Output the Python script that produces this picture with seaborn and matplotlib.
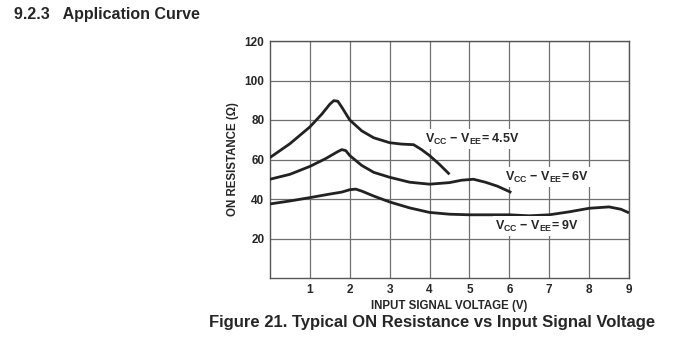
import matplotlib
matplotlib.use("Agg")
import matplotlib.pyplot as plt
import seaborn as sns
import pandas as pd

# Data
v45_x = [0, 0.5, 1, 1.3, 1.5, 1.6, 1.7, 1.8, 2, 2.3, 2.6, 3, 3.3, 3.6, 3.8, 4, 4.25, 4.5]
v45_y = [61, 68, 76.5, 83, 88, 89.8, 89.5, 86.5, 80, 74.5, 71, 68.5, 67.8, 67.5, 65, 62, 57.5, 52.5]

v6_x = [0, 0.5, 1, 1.4, 1.7, 1.8, 1.9, 2, 2.3, 2.6, 3, 3.5, 4, 4.5, 4.8, 5.1, 5.4, 5.7, 6.05]
v6_y = [50, 52.5, 56.5, 60.5, 64, 65, 64.5, 62, 57, 53.5, 51, 48.5, 47.5, 48.3, 49.5, 50, 48.5, 46.5, 43.3]

v9_x = [0, 0.5, 1, 1.5, 1.8, 2.0, 2.15, 2.3, 2.6, 3, 3.5, 4, 4.5, 5, 5.5, 6, 6.5, 7, 7.5, 8, 8.5, 8.8, 9]
v9_y = [37.5, 39, 40.7, 42.5, 43.5, 44.7, 45, 44, 41.5, 38.5, 35.5, 33.2, 32.3, 32, 32, 32, 31.5, 32, 33.5, 35.3, 36, 34.8, 33]

series_names = ["4.5V", "6V", "9V"]
series_labels = ["V$_{CC}$ \u2212 V$_{EE}$= 4.5V", "V$_{CC}$ \u2212 V$_{EE}$= 6V", "V$_{CC}$ \u2212 V$_{EE}$= 9V"]
label_pos = [(3.88, 70.4), (5.89, 51.1), (5.64, 26.3)]

x_ticks = [1, 2, 3, 4, 5, 6, 7, 8, 9]
y_ticks = [20, 40, 60, 80, 100, 120]

sns.set_style("white")
plt.rcParams["font.family"] = ["Liberation Sans", "DejaVu Sans"]
plt.rcParams["mathtext.fontset"] = "custom"
plt.rcParams["mathtext.rm"] = "Liberation Sans:bold"
plt.rcParams["mathtext.bf"] = "Liberation Sans:bold"
plt.rcParams["mathtext.default"] = "bf"

df = pd.concat([
    pd.DataFrame({"x": v45_x, "y": v45_y, "s": series_names[0]}),
    pd.DataFrame({"x": v6_x, "y": v6_y, "s": series_names[1]}),
    pd.DataFrame({"x": v9_x, "y": v9_y, "s": series_names[2]}),
])

fig = plt.figure(figsize=(6.79, 3.52), dpi=100)
ax = fig.add_axes([270/679, 1-278/352, (629-270)/679, (278-41)/352])

sns.lineplot(data=df, x="x", y="y", hue="s", sort=False,
             palette=["#222222"]*3, linewidth=2.0, legend=False, ax=ax, zorder=3)
for ln in ax.get_lines():
    ln.set_solid_joinstyle("round")
    ln.set_solid_capstyle("butt")

ax.set_xlim(0, 9)
ax.set_ylim(0, 120)
ax.set_xticks(x_ticks)
ax.set_yticks(y_ticks)
ax.set_xticklabels([str(t) for t in x_ticks], fontweight="bold", fontsize=8.5)
ax.set_yticklabels([str(t) for t in y_ticks], fontweight="bold", fontsize=8.5)
ax.tick_params(length=0, pad=4)
ax.grid(True, color="#707070", linewidth=0.9)
for sp in ax.spines.values():
    sp.set_color("#555555")
    sp.set_linewidth(1.0)

ax.set_xlabel("INPUT SIGNAL VOLTAGE (V)", fontweight="bold", fontsize=8.3, labelpad=3)
ax.set_ylabel("ON RESISTANCE (\u03a9)", fontweight="bold", fontsize=8.3, labelpad=4)

for lab, (lx, ly) in zip(series_labels, label_pos):
    ax.text(lx, ly, lab, fontsize=9, fontweight="bold", ha="left", va="center",
            zorder=4, bbox=dict(facecolor="white", edgecolor="none", pad=1.5))

fig.text(14/679, 1-15/352, "9.2.3   Application Curve", fontsize=11.5, fontweight="bold",
         ha="left", va="center")
fig.text(432/679, 1-323/352, "Figure 21. Typical ON Resistance vs Input Signal Voltage",
         fontsize=12, fontweight="bold", ha="center", va="center")

fig.savefig("out.png", dpi=100)
